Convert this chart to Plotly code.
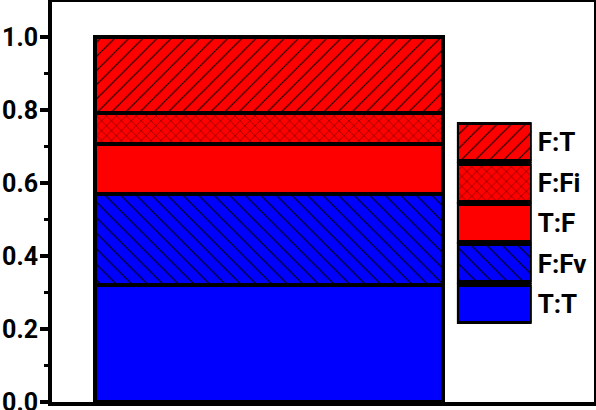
import plotly.graph_objects as go

# stacked fractions, bottom to top
categories = ["T:T", "F:Fv", "T:F", "F:Fi", "F:T"]
fractions = [0.321, 0.250, 0.135, 0.086, 0.208]
group = ["all"]
y_ticks = [0.0, 0.2, 0.4, 0.6, 0.8, 1.0]

# look of each segment
fill = {"T:T": "#0000FF", "F:Fv": "#0000FF", "T:F": "#FF0000",
        "F:Fi": "#FF0000", "F:T": "#FF0000"}
hatch = {"T:T": "", "F:Fv": "\\", "T:F": "", "F:Fi": "x", "F:T": "/"}
hatch_size = {"T:T": 8, "F:Fv": 11, "T:F": 8, "F:Fi": 7, "F:T": 10}

tick_font = dict(family="Roboto", size=25, color="black", weight="bold")
label_font = dict(family="Roboto", size=26, color="black", weight="bold")


def seg_marker(name):
    return dict(color=fill[name], line=dict(color="black", width=4),
                pattern=dict(shape=hatch[name], fgcolor="black",
                             bgcolor=fill[name], size=hatch_size[name],
                             solidity=0.1, fillmode="replace"))


fig = go.Figure()

for name, val in zip(categories, fractions):
    fig.add_trace(go.Bar(x=group, y=[val], name=name, width=1,
                         showlegend=False, marker=seg_marker(name)))

# legend drawn as a small bar chart of its own so the boxes are big
for name in categories:
    fig.add_trace(go.Bar(y=[name], x=[1], orientation="h", width=0.94,
                         xaxis="x2", yaxis="y2", showlegend=False,
                         marker=seg_marker(name)))

fig.update_layout(
    template="none",
    width=596, height=410,
    margin=dict(l=52, r=2, t=2, b=8, autoexpand=False),
    paper_bgcolor="white", plot_bgcolor="white",
    barmode="stack",
    xaxis=dict(range=[-0.624, 0.934], showticklabels=False, ticks="",
               showgrid=False, zeroline=False, automargin=False,
               showline=True, linecolor="black", linewidth=4, mirror=True),
    yaxis=dict(range=[0, 1.096], tickvals=y_ticks, tickformat=".1f",
               ticks="outside", ticklen=8, tickwidth=4, tickcolor="black",
               minor=dict(dtick=0.1, ticks="outside", ticklen=4, tickwidth=3,
                          tickcolor="black", showgrid=False),
               showgrid=False, zeroline=False, tickfont=tick_font,
               automargin=False, ticklabeloverflow="allow",
               ticklabelstandoff=-3,
               showline=True, linecolor="black", linewidth=4, mirror=True),
    xaxis2=dict(domain=[0.747, 0.885], range=[0, 1], anchor="y2",
                visible=False),
    yaxis2=dict(domain=[0.195, 0.70], range=[-0.5, 4.5], anchor="x2",
                side="right", showline=False, showgrid=False, ticks="",
                zeroline=False, tickfont=label_font, automargin=False,
                ticklabelstandoff=5),
)

fig.write_html("out.html", config={"displayModeBar": False},
               post_script="document.body.style.margin='0px';")
